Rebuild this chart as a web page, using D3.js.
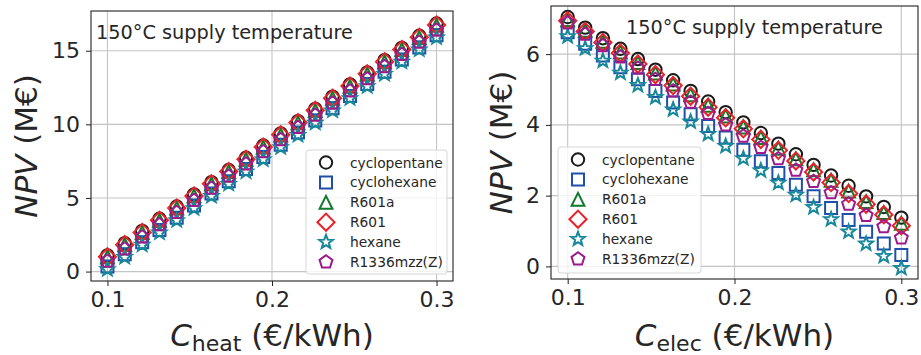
<!DOCTYPE html>
<html>
<head>
<meta charset="utf-8">
<script src="https://cdn.jsdelivr.net/npm/d3@7"></script>
<style>
  html, body { margin: 0; padding: 0; background: #fff; }
  svg { display: block; font-family: "DejaVu Sans", sans-serif; }
</style>
</head>
<body>
<svg id="chart" width="921" height="355"></svg>
<script>
// ---------- DATA ----------
const seriesNames = ["cyclopentane", "cyclohexane", "R601a", "R601", "hexane", "R1336mzz(Z)"];
const price = [0.1, 0.1105, 0.1211, 0.1316, 0.1421, 0.1526, 0.1632, 0.1737, 0.1842, 0.1947,
               0.2053, 0.2158, 0.2263, 0.2368, 0.2474, 0.2579, 0.2684, 0.2789, 0.2895, 0.3];

// Left panel: NPV (M€) vs heat price
const heatCyclopentane = [1.10, 1.93, 2.76, 3.59, 4.42, 5.24, 6.07, 6.90, 7.73, 8.56, 9.39, 10.22, 11.05, 11.88, 12.71, 13.53, 14.36, 15.19, 16.02, 16.85];
const heatCyclohexane  = [0.35, 1.18, 2.00, 2.83, 3.66, 4.48, 5.31, 6.13, 6.96, 7.79, 8.61, 9.44, 10.27, 11.09, 11.92, 12.74, 13.57, 14.40, 15.22, 16.05];
const heatR601a        = [1.00, 1.83, 2.65, 3.48, 4.31, 5.14, 5.96, 6.79, 7.62, 8.45, 9.27, 10.10, 10.93, 11.76, 12.58, 13.41, 14.24, 15.07, 15.89, 16.72];
const heatR601         = [1.00, 1.83, 2.66, 3.49, 4.32, 5.14, 5.97, 6.80, 7.63, 8.46, 9.29, 10.12, 10.95, 11.78, 12.61, 13.43, 14.26, 15.09, 15.92, 16.75];
const heatHexane       = [0.15, 0.98, 1.81, 2.64, 3.47, 4.29, 5.12, 5.95, 6.78, 7.61, 8.44, 9.27, 10.10, 10.93, 11.76, 12.58, 13.41, 14.24, 15.07, 15.90];
const heatR1336        = [0.70, 1.53, 2.35, 3.18, 4.01, 4.83, 5.66, 6.48, 7.31, 8.14, 8.96, 9.79, 10.62, 11.44, 12.27, 13.09, 13.92, 14.75, 15.57, 16.40];

// Right panel: NPV (M€) vs electricity price
const elecCyclopentane = [7.05, 6.75, 6.45, 6.15, 5.86, 5.56, 5.26, 4.96, 4.66, 4.36, 4.07, 3.77, 3.47, 3.17, 2.87, 2.57, 2.28, 1.98, 1.68, 1.38];
const elecCyclohexane  = [6.62, 6.29, 5.96, 5.63, 5.29, 4.96, 4.63, 4.30, 3.97, 3.64, 3.30, 2.97, 2.64, 2.31, 1.98, 1.65, 1.31, 0.98, 0.65, 0.32];
const elecR601a        = [6.97, 6.67, 6.36, 6.06, 5.76, 5.46, 5.15, 4.85, 4.55, 4.25, 3.94, 3.64, 3.34, 3.04, 2.73, 2.43, 2.13, 1.83, 1.52, 1.22];
const elecR601         = [6.94, 6.64, 6.33, 6.03, 5.72, 5.42, 5.11, 4.81, 4.50, 4.20, 3.89, 3.59, 3.28, 2.98, 2.67, 2.37, 2.06, 1.76, 1.46, 1.15];
const elecHexane       = [6.50, 6.16, 5.81, 5.47, 5.12, 4.78, 4.43, 4.09, 3.74, 3.40, 3.05, 2.71, 2.36, 2.02, 1.67, 1.33, 0.98, 0.64, 0.29, -0.05];
const elecR1336        = [6.88, 6.56, 6.24, 5.92, 5.60, 5.28, 4.96, 4.64, 4.32, 4.00, 3.68, 3.36, 3.04, 2.72, 2.40, 2.08, 1.76, 1.44, 1.12, 0.80];

const xTicks = [0.1, 0.2, 0.3];
const heatYTicks = [0, 5, 10, 15];
const elecYTicks = [0, 2, 4, 6];
const titleText = "150°C supply temperature";

// ---------- STYLE ----------
const colors = ["#1a1a1a", "#1f4fa8", "#0f7a2c", "#e8222a", "#17889a", "#9b1b8d"];
const textColor = "#262626";

function polyPath(pts) { return "M" + pts.map(p => p[0].toFixed(2) + "," + p[1].toFixed(2)).join("L") + "Z"; }
function regular(n, r, inner) {
  const pts = [];
  const k = inner ? 2 * n : n;
  for (let i = 0; i < k; i++) {
    const a = -Math.PI / 2 + i * 2 * Math.PI / k;
    const rr = inner && (i % 2 === 1) ? r * inner : r;
    pts.push([rr * Math.cos(a), rr * Math.sin(a)]);
  }
  return polyPath(pts);
}
const markerPaths = [
  d3.arc()({innerRadius: 0, outerRadius: 6.2, startAngle: 0, endAngle: 2 * Math.PI}),
  polyPath([[-6, -6], [6, -6], [6, 6], [-6, 6]]),
  polyPath([[0, -6.4], [6.4, 6.4], [-6.4, 6.4]]),
  polyPath([[0, -8.6], [8.6, 0], [0, 8.6], [-8.6, 0]]),
  regular(5, 7.2, 0.42),
  regular(5, 6.8)
];

const svg = d3.select("#chart");

function panel(cfg) {
  const g = svg.append("g");
  const x = d3.scaleLinear().domain([0.09, 0.31]).range([cfg.left, cfg.right]);
  const y = d3.scaleLinear().domain(cfg.yDomain).range([cfg.bottom, cfg.top]);

  // grid
  g.append("g").selectAll("line.gx").data(xTicks).join("line")
    .attr("x1", d => x(d)).attr("x2", d => x(d)).attr("y1", cfg.top).attr("y2", cfg.bottom)
    .attr("stroke", "#c4c4c4").attr("stroke-width", 1.1);
  g.append("g").selectAll("line.gy").data(cfg.yTicks).join("line")
    .attr("y1", d => y(d)).attr("y2", d => y(d)).attr("x1", cfg.left).attr("x2", cfg.right)
    .attr("stroke", "#c4c4c4").attr("stroke-width", 1.1);

  // axes
  const xAxis = d3.axisBottom(x).tickValues(xTicks).tickFormat(d3.format(".1f")).tickSize(5).tickPadding(5);
  const yAxis = d3.axisLeft(y).tickValues(cfg.yTicks).tickFormat(d3.format("d")).tickSize(5).tickPadding(6);
  const gx = g.append("g").attr("transform", `translate(0,${cfg.bottom})`).call(xAxis);
  const gy = g.append("g").attr("transform", `translate(${cfg.left},0)`).call(yAxis);
  [gx, gy].forEach(a => {
    a.select(".domain").remove();
    a.selectAll(".tick line").attr("stroke", "#222").attr("stroke-width", 1);
    a.selectAll(".tick text").attr("fill", textColor).attr("font-size", 22).attr("font-family", "DejaVu Sans");
  });

  // markers
  const clipId = "clip" + cfg.id;
  svg.append("clipPath").attr("id", clipId).append("rect")
    .attr("x", cfg.left).attr("y", cfg.top).attr("width", cfg.right - cfg.left).attr("height", cfg.bottom - cfg.top);
  const mg = g.append("g").attr("clip-path", `url(#${clipId})`);
  cfg.series.forEach((vals, si) => {
    mg.append("g").selectAll("path").data(vals).join("path")
      .attr("d", markerPaths[si])
      .attr("transform", (d, i) => `translate(${x(price[i])},${y(d)})`)
      .attr("fill", "none").attr("stroke", colors[si]).attr("stroke-width", 2)
      .attr("stroke-linejoin", "miter");
  });

  // frame
  g.append("rect").attr("x", cfg.left).attr("y", cfg.top)
    .attr("width", cfg.right - cfg.left).attr("height", cfg.bottom - cfg.top)
    .attr("fill", "none").attr("stroke", "#222").attr("stroke-width", 1.1);

  // title text
  g.append("text").attr("x", cfg.titleX).attr("y", cfg.titleY)
    .attr("font-size", 19.3).attr("fill", textColor).text(titleText);

  // legend
  const lg = g.append("g");
  lg.append("rect").attr("x", cfg.legend.x).attr("y", cfg.legend.y)
    .attr("width", cfg.legend.w).attr("height", cfg.legend.h).attr("rx", 3)
    .attr("fill", "#fff").attr("fill-opacity", 0.8).attr("stroke", "#d6d6d6").attr("stroke-width", 1);
  seriesNames.forEach((name, si) => {
    const yy = cfg.legend.y + 12.5 + si * 19.9;
    lg.append("path").attr("d", markerPaths[si])
      .attr("transform", `translate(${cfg.legend.x + 20},${yy})`)
      .attr("fill", "none").attr("stroke", colors[si]).attr("stroke-width", 2);
    lg.append("text").attr("x", cfg.legend.x + 44).attr("y", yy + 5)
      .attr("font-size", 13.8).attr("fill", textColor).text(name);
  });

  // x label
  const xl = g.append("text").attr("x", (cfg.left + cfg.right) / 2).attr("y", 346)
    .attr("text-anchor", "middle").attr("font-size", 31).attr("fill", textColor);
  xl.append("tspan").attr("font-style", "italic").text("C");
  xl.append("tspan").attr("font-size", 22).attr("dy", 5).text(cfg.sub);
  xl.append("tspan").attr("dy", -5).text(" (€/kWh)");

  // y label
  const yl = g.append("text")
    .attr("transform", `translate(${cfg.yLabelX},${(cfg.top + cfg.bottom) / 2}) rotate(-90)`)
    .attr("text-anchor", "middle").attr("font-size", 31).attr("fill", textColor);
  yl.append("tspan").attr("font-style", "italic").text("NPV");
  yl.append("tspan").text(" (M€)");
}

panel({
  id: "L", left: 91, right: 453, top: 11, bottom: 281, yDomain: [-0.64, 17.7], yTicks: heatYTicks,
  series: [heatCyclopentane, heatCyclohexane, heatR601a, heatR601, heatHexane, heatR1336],
  titleX: 96, titleY: 39, sub: "heat", yLabelX: 37,
  legend: {x: 306, y: 150, w: 141, h: 124}
});
panel({
  id: "R", left: 551, right: 918, top: 6, bottom: 279, yDomain: [-0.356, 7.36], yTicks: elecYTicks,
  series: [elecCyclopentane, elecCyclohexane, elecR601a, elecR601, elecHexane, elecR1336],
  titleX: 626, titleY: 33.5, sub: "elec", yLabelX: 512,
  legend: {x: 558, y: 147, w: 143, h: 126}
});
</script>
</body>
</html>
